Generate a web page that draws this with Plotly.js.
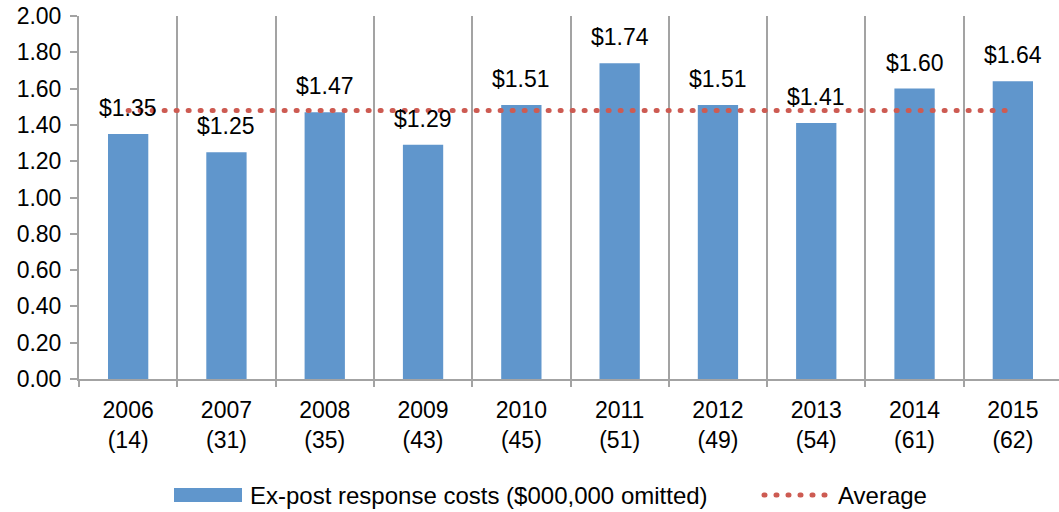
<!DOCTYPE html>
<html>
<head>
<meta charset="utf-8">
<script src="https://cdn.plot.ly/plotly-3.0.1.min.js"></script>
<style>
html,body{margin:0;padding:0;overflow:hidden;background:#fff;}
#chart{width:1062px;height:512px;}
</style>
</head>
<body>
<div id="chart"></div>
<script>
const years = ["2006","2007","2008","2009","2010","2011","2012","2013","2014","2015"];
const counts = ["14","31","35","43","45","51","49","54","61","62"];
const costs = [1.35,1.25,1.47,1.29,1.51,1.74,1.51,1.41,1.60,1.64];
const averageValue = 1.48;
const seriesName = "Ex-post response costs ($000,000 omitted)";
const averageName = "Average";

const categories = years.map((y,i)=> y + "<br>(" + counts[i] + ")");
const FONT = "Liberation Sans, Arial, sans-serif";
const BLUE = "#6096CC";
const RED = "#CD5B52";
const GRID = "#A3A3A3";

const bars = {
  type: "bar",
  x: categories,
  y: costs,
  width: 0.41,
  marker: {color: BLUE},
  name: seriesName,
  hoverinfo: "none"
};
const avg = {
  type: "scatter",
  mode: "lines",
  x: [categories[0], categories[categories.length-1]],
  y: [averageValue, averageValue],
  line: {color: RED, width: 5, dash: "1px,11px"},
  name: averageName,
  hoverinfo: "none"
};

const annotations = categories.map((c,i)=>({
  x: c, y: costs[i], xref: "x", yref: "y",
  text: "$" + costs[i].toFixed(2),
  showarrow: false, yanchor: "middle", yshift: 26,
  font: {family: FONT, size: 23, color: "#000"}
}));

// custom legend (paper coordinates)
const plotL = 79, plotW = 983, plotT = 16, plotH = 363;
const px = v => (v - plotL) / plotW;
const py = v => (plotT + plotH - v) / plotH;
annotations.push({
  xref: "paper", yref: "paper", x: px(248), y: py(495), xanchor: "left", yanchor: "middle",
  text: seriesName, showarrow: false, font: {family: FONT, size: 24, color: "#000"}
});
annotations.push({
  xref: "paper", yref: "paper", x: px(836), y: py(495), xanchor: "left", yanchor: "middle",
  text: averageName, showarrow: false, font: {family: FONT, size: 24, color: "#000"}
});
const shapes = [
  {type: "rect", xref: "paper", yref: "paper", x0: px(174), x1: px(242), y0: py(502), y1: py(488),
   fillcolor: BLUE, line: {width: 0}},
  {type: "line", xref: "paper", yref: "paper", x0: px(764), x1: px(826), y0: py(495), y1: py(495),
   line: {color: RED, width: 5, dash: "1px,11px"}}
];

const layout = {
  width: 1062, height: 512,
  margin: {l: 79, r: 0, t: 16, b: 133},
  paper_bgcolor: "#fff", plot_bgcolor: "#fff",
  showlegend: false,
  font: {family: FONT, size: 23, color: "#000"},
  xaxis: {
    type: "category",
    tickson: "boundaries",
    showgrid: true, gridcolor: GRID, gridwidth: 2,
    showline: true, linecolor: GRID, linewidth: 2,
    ticks: "outside", ticklen: 6, tickcolor: GRID, tickwidth: 2,
    tickfont: {family: FONT, size: 23, color: "#000"},
    ticklabelstandoff: 9,
    range: [-0.5, 9.5],
    fixedrange: true
  },
  yaxis: {
    range: [0, 2.0],
    tickvals: [0,0.2,0.4,0.6,0.8,1.0,1.2,1.4,1.6,1.8,2.0],
    tickformat: ".2f",
    showgrid: false, zeroline: false,
    showline: true, linecolor: GRID, linewidth: 2,
    ticks: "outside", ticklen: 7, tickcolor: GRID, tickwidth: 2,
    tickfont: {family: FONT, size: 23, color: "#000"},
    ticklabelstandoff: 4,
    fixedrange: true
  },
  annotations: annotations,
  shapes: shapes
};

Plotly.newPlot("chart", [bars, avg], layout, {staticPlot: true, displayModeBar: false}).then(()=>{
  document.querySelectorAll(".scatterlayer .js-line, .shapelayer path").forEach(p=>{
    if ((p.style.strokeDasharray||"").indexOf("1px") === 0) p.style.strokeLinecap = "round";
  });
});
</script>
</body>
</html>
